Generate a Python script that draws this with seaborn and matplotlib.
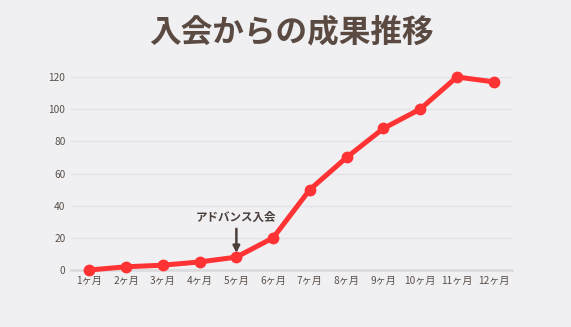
import matplotlib
matplotlib.use("Agg")
import matplotlib.pyplot as plt
import seaborn as sns
import pandas as pd

months = ["1ヶ月", "2ヶ月", "3ヶ月", "4ヶ月", "5ヶ月", "6ヶ月", "7ヶ月", "8ヶ月", "9ヶ月", "10ヶ月", "11ヶ月", "12ヶ月"]
values = [0, 2, 3, 5, 8, 20, 50, 70, 88, 100, 120, 117]
yticks = [0, 20, 40, 60, 80, 100, 120]
title = "入会からの成果推移"
note = "アドバンス入会"
note_index = 4

sns.set_theme(style="white")
plt.rcParams['font.family'] = ['Noto Sans CJK JP', 'DejaVu Sans']

bg = "#f0f0f2"
fig = plt.figure(figsize=(5.71, 3.27), dpi=100, facecolor=bg)
ax = fig.add_axes([71/571, 1-270/327, (512-71)/571, (270-77)/327])
ax.set_facecolor(bg)

df = pd.DataFrame({"month": months, "value": values})
sns.lineplot(data=df, x="month", y="value", ax=ax, color="#ff3333", linewidth=3.6,
             marker="o", markersize=8.5, markeredgewidth=0, sort=False, clip_on=False, zorder=5)

ax.set_xlim(-0.5, len(months) - 0.5)
ax.set_ylim(0, 120)
ax.set_yticks(yticks)
ax.set_xticks(range(len(months)))
ax.set_xticklabels(months)
ax.grid(axis="y", color="#e2e2e6", linewidth=1)
ax.set_axisbelow(True)
for s in ["top", "right", "left"]:
    ax.spines[s].set_visible(False)
ax.spines["bottom"].set_color("#dcdcdf")
ax.spines["bottom"].set_linewidth(2)
ax.tick_params(axis="both", length=0, labelsize=7.3, labelcolor="#5a4f4a", pad=4)
ax.set_xlabel("")
ax.set_ylabel("")

ax.annotate(note, xy=(note_index, values[note_index] + 2.6), xytext=(note_index, values[note_index] + 25),
            ha="center", va="center", fontsize=8.3, fontweight="bold", color="#4a3f3a",
            arrowprops=dict(arrowstyle="-|>", color="#4a3f3a", lw=1.8, shrinkA=1.5, shrinkB=0,
                            mutation_scale=10))

fig.text(291/571, 1-32/327, title, ha="center", va="center", fontsize=22.8,
         fontweight="bold", color="#5a4a42")

fig.savefig("out.png", dpi=100, facecolor=bg)
